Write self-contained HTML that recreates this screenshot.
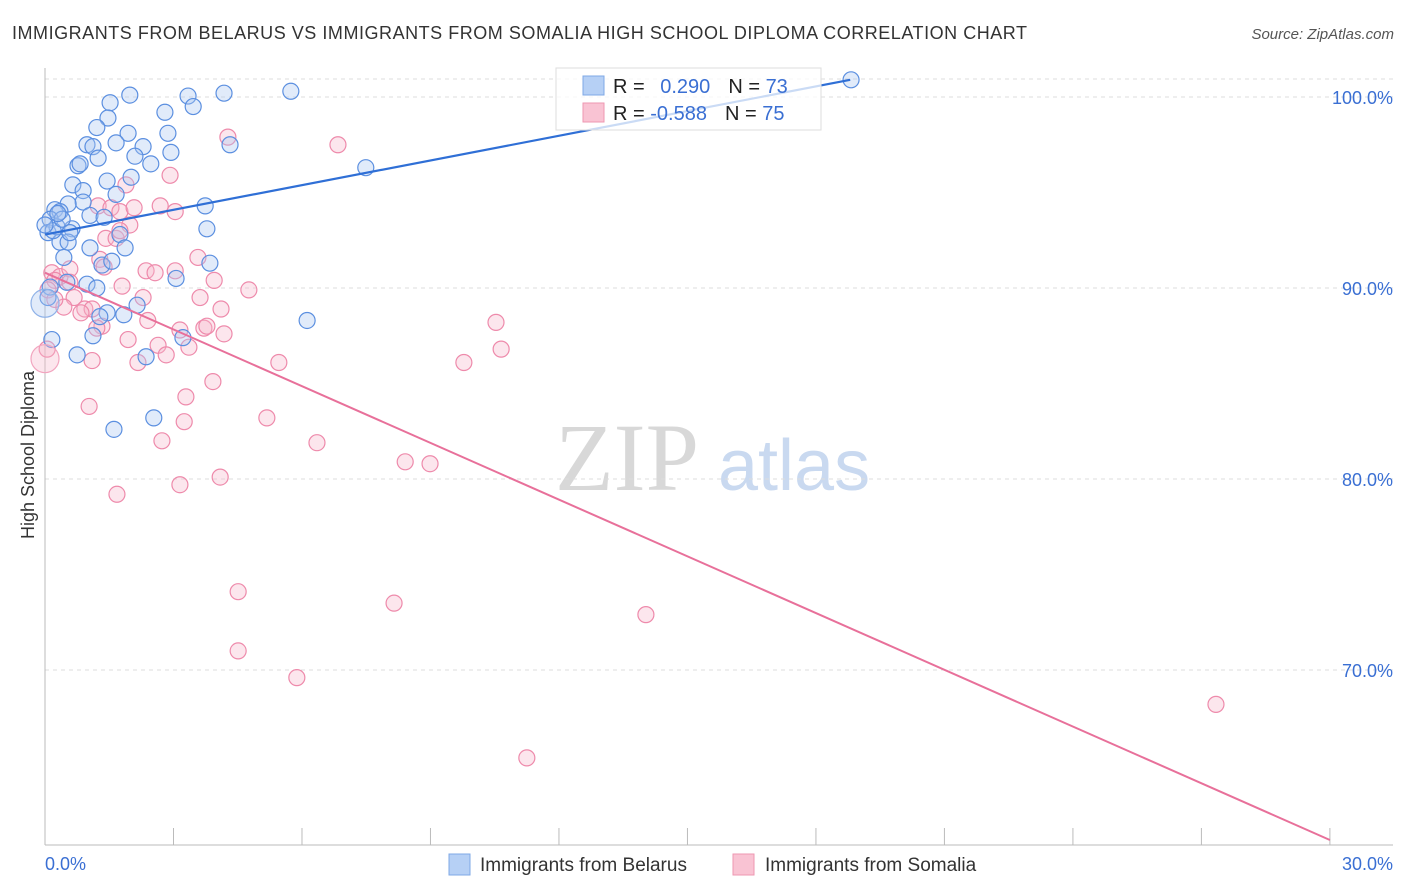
<!DOCTYPE html>
<html><head><meta charset="utf-8"><style>
body{margin:0;background:#fff;font-family:"Liberation Sans",sans-serif;}
svg{display:block}
</style></head><body>
<svg id="c" width="1406" height="892">
<text x="12" y="39" font-size="18" fill="#333" textLength="1015" lengthAdjust="spacing">IMMIGRANTS FROM BELARUS VS IMMIGRANTS FROM SOMALIA HIGH SCHOOL DIPLOMA CORRELATION CHART</text>
<text x="1394" y="39" font-size="15" fill="#555" font-style="italic" text-anchor="end">Source: ZipAtlas.com</text>
<g>
<text x="555" y="490" font-size="96" font-family="Liberation Serif,serif" fill="#d8d8d8">ZIP</text>
<text x="718" y="490" font-size="72" fill="#c9d9f0">atlas</text>
</g>
<text transform="translate(34,455) rotate(-90)" font-size="18" fill="#333" text-anchor="middle">High School Diploma</text>
<g id="grid"></g><g id="pts"></g><g id="lines"></g>
<g>
<rect x="556" y="68" width="265" height="62" fill="#fff" fill-opacity="0.75" stroke="#ddd"/>
<rect x="583" y="76" width="21" height="19" fill="#b6d0f5" stroke="#7fa8e6"/>
<rect x="583" y="103" width="21" height="19" fill="#f9c3d3" stroke="#ee97b2"/>
<text x="613" y="93" font-size="20" fill="#222">R = <tspan fill="#3a6fd3" dx="10">0.290</tspan><tspan fill="#222" dx="18">N = </tspan><tspan fill="#3a6fd3">73</tspan></text>
<text x="613" y="120" font-size="20" fill="#222">R = <tspan fill="#3a6fd3">-0.588</tspan><tspan fill="#222" dx="18">N = </tspan><tspan fill="#3a6fd3">75</tspan></text>
</g>
<g>
<rect x="449" y="854" width="21" height="21" fill="#b6d0f5" stroke="#7fa8e6"/>
<text x="480" y="871" font-size="19" fill="#333">Immigrants from Belarus</text>
<rect x="733" y="854" width="21" height="21" fill="#f9c3d3" stroke="#ee97b2"/>
<text x="765" y="871" font-size="19" fill="#333">Immigrants from Somalia</text>
</g>
<text x="45" y="870" font-size="18" fill="#3a6fd3">0.0%</text>
<text x="1393" y="870" font-size="18" fill="#3a6fd3" text-anchor="end">30.0%</text>
</svg>
<script>
const yTicks=[100,90,80,70];
const yTickLabels=["100.0%","90.0%","80.0%","70.0%"];
const xTicks=[0,3,6,9,12,15,18,21,24,27,30];
const blueX=[1.98,1.52,3.34,4.18,5.74,18.82,2.80,3.46,1.47,1.21,1.94,2.87,0.98,1.12,1.66,2.29,4.32,2.94,1.24,2.10,2.47,0.77,0.82,7.49,1.45,2.01,0.65,0.89,1.66,0.89,0.54,0.23,0.35,1.05,1.38,3.74,0.12,0.07,0.28,0.63,1.75,3.78,0.35,0.54,1.05,1.87,0.44,1.33,1.56,3.85,3.06,0.51,0.98,1.21,0.12,1.45,1.28,1.84,2.15,6.12,0.16,1.12,3.22,0.75,2.36,2.54,1.61,0.07,0.19,0.40,0,0.58,0.30];
const blueY=[100.1,99.7,100.05,100.2,100.3,100.9,99.2,99.5,98.9,98.4,98.1,98.1,97.5,97.4,97.6,97.4,97.5,97.1,96.8,96.9,96.5,96.4,96.5,96.3,95.6,95.8,95.4,95.1,94.9,94.5,94.4,94.1,94.0,93.8,93.7,94.3,93.6,92.9,93.2,93.1,92.8,93.1,92.4,92.4,92.1,92.1,91.6,91.2,91.4,91.3,90.5,90.3,90.2,90.0,90.05,88.7,88.5,88.6,89.1,88.3,87.3,87.5,87.4,86.5,86.4,83.2,82.6,89.5,93.0,93.6,93.3,92.9,93.9];
const pinkX=[4.27,6.84,2.92,1.89,1.24,1.54,1.75,2.08,2.69,3.04,1.98,1.42,1.66,1.75,3.57,2.36,2.57,3.04,0.16,0.35,0.58,0.23,0.58,1.28,1.38,1.80,4.76,3.95,2.29,3.62,0.68,0.44,0.93,1.10,0.84,4.11,2.40,1.33,1.21,3.15,3.71,3.78,4.18,10.53,10.65,1.94,2.64,3.36,2.83,1.10,2.17,5.46,9.78,3.92,3.29,1.03,5.18,3.25,2.73,6.35,8.41,8.99,4.09,3.15,1.68,4.51,8.15,14.03,4.51,5.88,27.34,11.25,0.05,0.07,0.23];
const pinkY=[97.9,97.5,95.9,95.4,94.3,94.2,94.0,94.2,94.3,94.0,93.3,92.6,92.6,93.0,91.6,90.9,90.8,90.9,90.8,90.6,91.0,90.4,90.3,91.5,91.1,90.1,89.9,90.4,89.5,89.5,89.5,89.0,88.9,88.9,88.7,88.9,88.3,88.0,87.9,87.8,87.9,88.0,87.6,88.2,86.8,87.3,87.0,86.9,86.5,86.2,86.1,86.1,86.1,85.1,84.3,83.8,83.2,83.0,82.0,81.9,80.9,80.8,80.1,79.7,79.2,74.1,73.5,72.9,71.0,69.6,68.2,65.4,86.8,89.9,89.4];
const blueBig=[[0,89.2]];const pinkBig=[[0,86.3]];
const blueTrendX=[0,18.8];const blueTrendY=[92.8,100.9];
const pinkTrendX=[0,30];const pinkTrendY=[90.8,61.1];

const NS="http://www.w3.org/2000/svg";
const sx=v=>45+v*42.83, sy=v=>97+(100-v)*19.1;
function mk(t,a,p){const e=document.createElementNS(NS,t);for(const k in a)e.setAttribute(k,a[k]);p.appendChild(e);return e;}
const grid=document.getElementById('grid');
mk('line',{x1:45,x2:1393,y1:79,y2:79,stroke:'#ddd','stroke-dasharray':'4,4'},grid);
yTicks.forEach((t,i)=>{
 const l=mk('line',{x1:45,x2:1393,y1:sy(t),y2:sy(t),stroke:'#ddd','stroke-dasharray':'4,4'},grid);
 
 
 const tx=mk('text',{x:1393,y:sy(t)+7,'font-size':18,fill:'#3a6fd3','text-anchor':'end'},grid);
 tx.textContent=yTickLabels[i];
 
 
});
const ax=mk('line',{x1:45,x2:45,y1:68,y2:845,stroke:'#bbb'},grid);


const bx=mk('line',{x1:45,x2:1393,y1:845,y2:845,stroke:'#bbb'},grid);


xTicks.forEach(t=>{const l=mk('line',{x1:sx(t),x2:sx(t),y1:828,y2:845,stroke:'#bbb'},grid);
 
 });
const pts=document.getElementById('pts');
function dot(x,y,r,f,s,name){const c=mk('circle',{cx:sx(x),cy:sy(y),r:r,fill:f,'fill-opacity':0.35,stroke:s,'stroke-width':1.2},pts);
 
 }
pinkX.forEach((x,i)=>dot(x,pinkY[i],8,'#f7b6cb','#ee8aab','somalia-point'));
blueX.forEach((x,i)=>dot(x,blueY[i],8,'#a9c7f2','#5b8fe0','belarus-point'));
pinkBig.forEach(p=>dot(p[0],p[1],14,'#f7b6cb','#f2a5bf','somalia-point'));
blueBig.forEach(p=>dot(p[0],p[1],14,'#a9c7f2','#8fb2e8','belarus-point'));
const lines=document.getElementById('lines');
const bl=mk('line',{x1:sx(blueTrendX[0]),y1:sy(blueTrendY[0]),x2:sx(blueTrendX[1]),y2:sy(blueTrendY[1]),stroke:'#2f6fd6','stroke-width':2.2},lines);


const pl=mk('line',{x1:sx(pinkTrendX[0]),y1:sy(pinkTrendY[0]),x2:sx(pinkTrendX[1]),y2:sy(pinkTrendY[1]),stroke:'#e8709a','stroke-width':2},lines);


</script>
</body></html>
